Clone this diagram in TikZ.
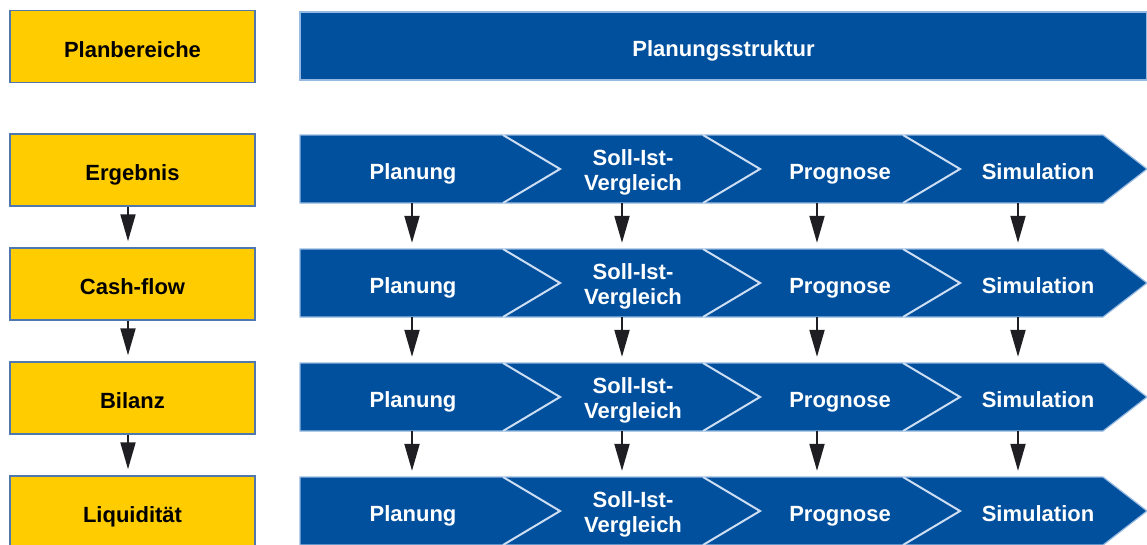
\documentclass[tikz,border=0pt]{standalone}
\usepackage{fontspec}
\setmainfont{Liberation Sans}
\usetikzlibrary{arrows.meta}
\definecolor{bblue}{RGB}{0,80,158}
\definecolor{lblue}{RGB}{150,185,225}
\definecolor{sepcol}{RGB}{205,222,242}
\definecolor{ygold}{RGB}{255,204,0}
\definecolor{yedge}{RGB}{80,120,175}
\definecolor{adark}{RGB}{30,30,35}
\tikzset{
  lblfont/.style={font=\fontsize{22}{25}\selectfont\bfseries, text height=21pt, text depth=0pt},
  ybox/.style={draw=yedge, line width=1.5pt, fill=ygold, minimum width=245pt, minimum height=72pt, inner sep=0pt, lblfont, text=black},
  hdrbox/.style={draw=lblue, line width=1.2pt, fill=bblue, minimum width=847pt, minimum height=68pt, inner sep=0pt, lblfont, text=white},
  seglabel/.style={minimum height=68pt, inner sep=0pt, text=white, lblfont, align=center},
  twoline/.style={text height=42pt},
  band/.style={fill=bblue, draw=lblue, line width=1.2pt},
  sepline/.style={draw=sepcol, line width=2pt},
  flow/.style={draw=adark, line width=2pt, -{Triangle[length=27pt,width=15pt]}, shorten >=6pt}
}
\begin{document}
\begin{tikzpicture}[x=1pt,y=-1pt]
\useasboundingbox (0,0) rectangle (1147,544);
\clip (0,0) rectangle (1147,544);
\node[ybox] (pb) at (132.5,46.5) {Planbereiche};
\node[hdrbox] (hdr) at (723.5,46) {Planungsstruktur};
\foreach \lab [count=\i from 0] in {Ergebnis,Cash-flow,Bilanz,Liquidität} {
  \pgfmathsetmacro\yc{170+114*\i}
  \pgfmathsetmacro\t{135+114*\i}
  \pgfmathsetmacro\m{169+114*\i}
  \pgfmathsetmacro\b{203+114*\i}
  \node[ybox] (y\i) at (132.5,\yc) {\lab};
  \draw[band] (300,\t) -- (1103,\t) -- (1147,\m) -- (1103,\b) -- (300,\b) -- cycle;
  \foreach \x in {503,703,903} \draw[sepline] (\x,\t) -- (\x+57,\m) -- (\x,\b);
  \node[seglabel] (a\i) at (413,\m) {Planung};
  \node[seglabel, twoline] (b\i) at (633,\m) {Soll-Ist-\\Vergleich};
  \node[seglabel] (c\i) at (840,\m) {Prognose};
  \node[seglabel] (d\i) at (1038,\m) {Simulation};
}
\foreach \i/\j in {0/1,1/2,2/3} {
  \draw[flow] ([xshift=-4.5pt]y\i.south) -- ([xshift=-4.5pt]y\j.north);
  \draw[flow] ([xshift=-1pt]a\i.south) -- ([xshift=-1pt]a\j.north);
  \draw[flow] ([xshift=-11pt]b\i.south) -- ([xshift=-11pt]b\j.north);
  \draw[flow] ([xshift=-23pt]c\i.south) -- ([xshift=-23pt]c\j.north);
  \draw[flow] ([xshift=-20pt]d\i.south) -- ([xshift=-20pt]d\j.north);
}
\end{tikzpicture}
\end{document}
